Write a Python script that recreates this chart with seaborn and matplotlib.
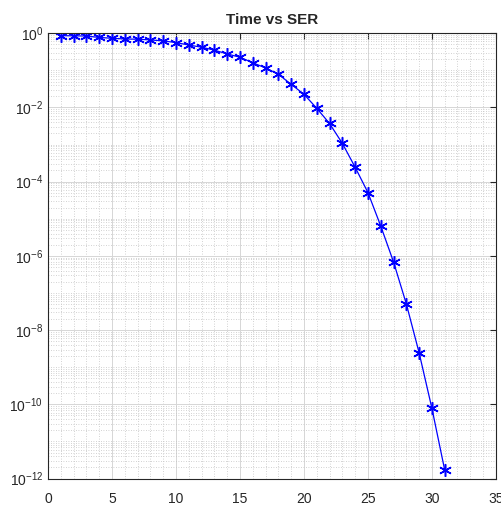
import numpy as np
import seaborn as sns
import matplotlib.pyplot as plt
from matplotlib.ticker import FixedLocator, MultipleLocator, LogFormatterSciNotation, NullFormatter

# values (symbol error rate per time step)
time_steps = list(range(1, 32))
ser_values = [0.86, 0.85, 0.84, 0.77, 0.73, 0.70, 0.69, 0.66, 0.62, 0.56,
              0.48, 0.42, 0.35, 0.277, 0.225, 0.16, 0.116, 0.0785, 0.042, 0.0227,
              0.0095, 0.0037, 1.08e-3, 2.45e-4, 5.1e-5, 6.4e-6, 6.9e-7, 5.1e-8,
              2.45e-9, 7.8e-11, 1.7e-12]
x_ticks = [0, 5, 10, 15, 20, 25, 30, 35]
y_decades = list(range(-12, 1, 2))

sns.set_style("white")
plt.rcParams['font.family'] = ['Liberation Sans', 'DejaVu Sans']
plt.rcParams['mathtext.fontset'] = 'custom'
plt.rcParams['mathtext.rm'] = 'Liberation Sans'

fig = plt.figure(figsize=(5.01, 5.08), dpi=100)
ax = fig.add_axes([0.0958, 0.058, 0.894, 0.8766])

sns.lineplot(x=time_steps, y=ser_values, ax=ax, color='blue', linewidth=0.9,
             marker=(6, 2, 0), markersize=9, markeredgecolor='blue',
             markeredgewidth=1.1)

ax.set_yscale('log')
ax.set_xlim(0, 35)
ax.set_ylim(1e-12, 1)

ax.xaxis.set_major_locator(FixedLocator(x_ticks))
ax.xaxis.set_minor_locator(MultipleLocator(1))
major_y = [10.0 ** d for d in y_decades]
minor_y = [k * 10.0 ** d for d in range(-12, 0) for k in range(1, 10)]
ax.yaxis.set_major_locator(FixedLocator(major_y))
ax.yaxis.set_minor_locator(FixedLocator(minor_y))
ax.yaxis.set_major_formatter(LogFormatterSciNotation())
ax.yaxis.set_minor_formatter(NullFormatter())

ax.grid(which='major', color='#d6d6d6', linewidth=0.7)
ax.grid(which='minor', color='#c4c4c4', linewidth=0.6, linestyle=(0, (1, 2)))
ax.set_axisbelow(True)

ax.tick_params(which='major', direction='in', length=4, width=0.8, top=True,
               right=True, labelsize=10, colors='#262626')
ax.tick_params(axis='x', which='major', pad=10)
ax.tick_params(which='minor', length=0)
for s in ax.spines.values():
    s.set_color('#262626')
    s.set_linewidth(0.8)

ax.set_title('Time vs SER', fontsize=11, fontweight='bold', pad=7)
ax.set_xlabel('')
ax.set_ylabel('')

fig.savefig('out.png', dpi=100)
